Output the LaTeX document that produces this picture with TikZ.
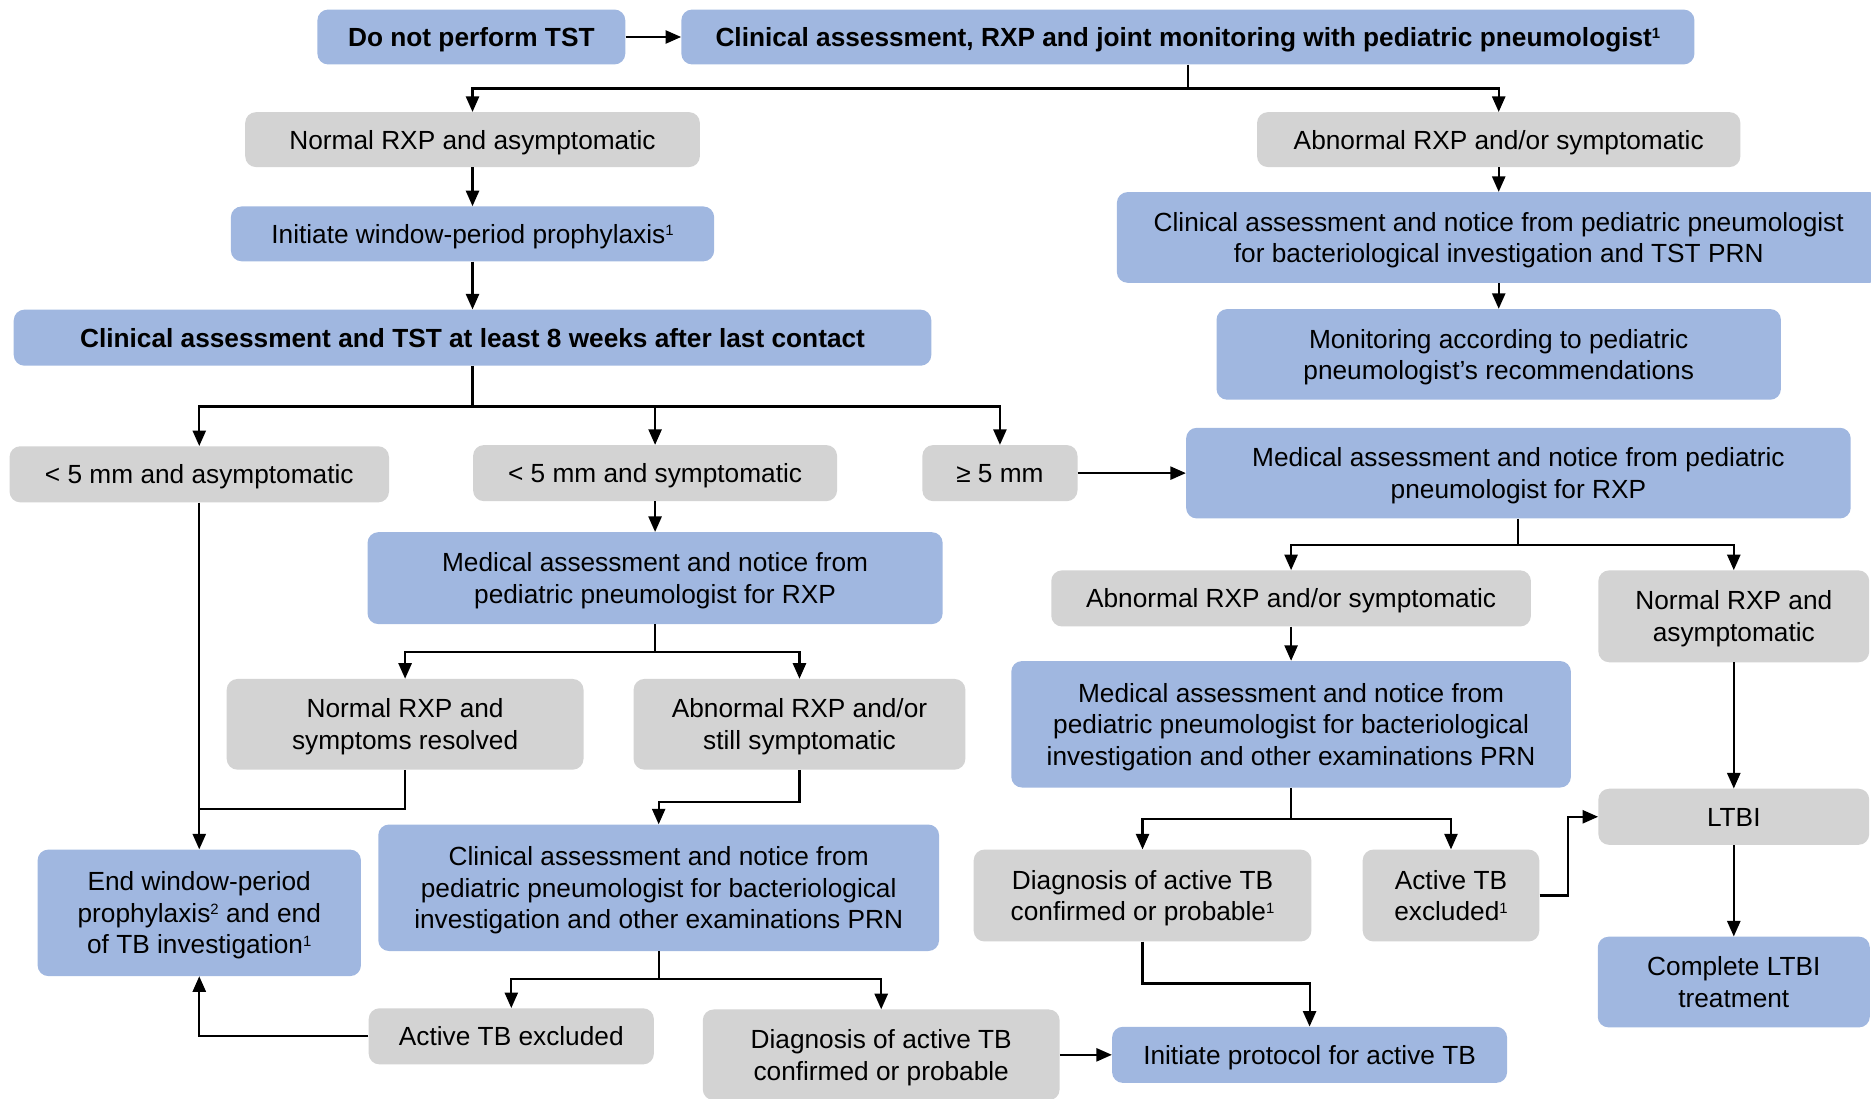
\documentclass[tikz,border=0pt]{standalone}
\usepackage{fontspec}
\setmainfont{Liberation Sans}
\usetikzlibrary{arrows.meta}
\definecolor{boxblue}{RGB}{160,183,224}
\definecolor{boxgrey}{RGB}{211,211,211}
\newcommand{\fn}[1]{\raisebox{6.5pt}{\fontsize{12.5}{12.5}\selectfont #1}}
\newcommand{\topstrut}{\rule{0pt}{20.4pt}}

\begin{document}
\begin{tikzpicture}[x=1pt,y=-1pt,
  box/.style={rounded corners=9pt,align=center,inner sep=0pt,font=\fontsize{22}{26.5}\selectfont,
    execute at begin node={\rule{0pt}{20.4pt}},execute at end node={\rule[-4.6pt]{0pt}{0pt}}},
  bluebox/.style={box,fill=boxblue},
  greybox/.style={box,fill=boxgrey},
  wh/.style 2 args={minimum width=#1pt,minimum height=#2pt},
  line/.style={line width=1.8pt},
  arr/.style={line,-{Triangle[length=13pt,width=11pt]}}]
\useasboundingbox (0,0) rectangle (1568,921);
\clip (0,0) rectangle (1568,921);

\node[bluebox,wh={258}{46}] (nott) at (395,31) {\bfseries Do not perform TST};
\node[bluebox,wh={849}{46}] (joint) at (995.5,31) {\bfseries Clinical assessment, RXP and joint monitoring with pediatric pneumologist\fn{1}};

\node[greybox,wh={381}{46}] (normA) at (396,117) {Normal RXP and asymptomatic};
\node[greybox,wh={405}{46}] (abnA) at (1256,117) {Abnormal RXP and/or symptomatic};
\node[bluebox,wh={405}{46}] (initw) at (396,196) {Initiate window-period prophylaxis\fn{1}};
\node[bluebox,wh={640}{76}] (clinB) at (1256,199) {\topstrut Clinical assessment and notice from pediatric pneumologist\\for bacteriological investigation and TST PRN};
\node[bluebox,wh={473}{76}] (monit) at (1256,297) {\topstrut Monitoring according to pediatric\\pneumologist’s recommendations};
\node[bluebox,wh={769}{47}] (tst) at (396,283) {\bfseries Clinical assessment and TST at least 8 weeks after last contact};

\node[greybox,wh={318}{47}] (lowasym) at (167,397.5) {< 5 mm and asymptomatic};
\node[greybox,wh={305}{47}] (lowsym) at (549,396.5) {< 5 mm and symptomatic};
\node[greybox,wh={130}{47}] (geq) at (838,396.5) {≥ 5 mm};
\node[bluebox,wh={557}{76}] (medR) at (1272.5,396.5) {\topstrut Medical assessment and notice from pediatric\\pneumologist for RXP};
\node[bluebox,wh={482}{77}] (medL) at (549,484.5) {\topstrut Medical assessment and notice from\\pediatric pneumologist for RXP};

\node[greybox,wh={299}{76}] (normres) at (339.5,607) {\topstrut Normal RXP and\\symptoms resolved};
\node[greybox,wh={278}{76}] (abnstill) at (670,607) {\topstrut Abnormal RXP and/or\\still symptomatic};
\node[bluebox,wh={271}{106}] (endw) at (167,765) {\topstrut End window-period\\prophylaxis\fn{2} and end\\of TB investigation\fn{1}};
\node[bluebox,wh={470}{106}] (clinC) at (552,744) {\topstrut Clinical assessment and notice from\\pediatric pneumologist for bacteriological\\investigation and other examinations PRN};
\node[greybox,wh={239}{47}] (tbexcl) at (428.5,868.5) {Active TB excluded};
\node[greybox,wh={299}{76}] (tbdiag) at (738.5,884) {\topstrut Diagnosis of active TB\\confirmed or probable};
\node[bluebox,wh={331}{47}] (proto) at (1097.5,884) {Initiate protocol for active TB};

\node[greybox,wh={402}{47}] (abnR) at (1082,501.5) {Abnormal RXP and/or symptomatic};
\node[greybox,wh={227}{77}] (normR) at (1453,516.5) {\topstrut Normal RXP and\\asymptomatic};
\node[bluebox,wh={469}{106}] (medC) at (1082,607) {\topstrut Medical assessment and notice from\\pediatric pneumologist for bacteriological\\investigation and other examinations PRN};
\node[greybox,wh={283}{77}] (diagR) at (957.5,750.5) {\topstrut Diagnosis of active TB\\confirmed or probable\fn{1}};
\node[greybox,wh={148}{77}] (exclR) at (1216,750.5) {\topstrut Active TB\\excluded\fn{1}};
\node[greybox,wh={227}{47}] (ltbi) at (1453,684.5) {LTBI};
\node[bluebox,wh={228}{76}] (compl) at (1453,823) {\topstrut Complete LTBI\\treatment};

\draw[arr] (nott) -- (joint);
\draw[line] (joint.south) -- ++(0,20) coordinate (jsplit);
\draw[arr] (jsplit) -| (normA);
\draw[arr] (jsplit) -| (abnA);
\draw[arr] (normA) -- (initw);
\draw[arr] (initw) -- (tst);
\draw[arr] (abnA) -- (clinB);
\draw[arr] (clinB) -- (monit);

\draw[line] (tst.south) -- ++(0,34) coordinate (tsplit);
\draw[arr] (tsplit) -| (lowasym);
\draw[arr] (tsplit) -| (lowsym);
\draw[arr] (tsplit) -| (geq);
\draw[arr] (geq) -- (medR);
\draw[arr] (lowsym) -- (medL);

\draw[line] (medL.south) -- ++(0,23) coordinate (msplit);
\draw[arr] (msplit) -| (normres);
\draw[arr] (msplit) -| (abnstill);
\draw[arr] (lowasym) -- (endw);
\coordinate (njoin) at (167,678);
\draw[line] (normres.south) |- (njoin);
\draw[arr] (abnstill.south) -- ++(0,27) -| (clinC);

\draw[line] (clinC.south) -- ++(0,23) coordinate (csplit);
\draw[arr] (csplit) -| (tbexcl);
\draw[arr] (csplit) -| (tbdiag);
\draw[arr] (tbexcl.west) -| (endw.south);
\draw[arr] (tbdiag) -- (proto);

\draw[line] (medR.south) -- ++(0,22) coordinate (rsplit);
\draw[arr] (rsplit) -| (abnR);
\draw[arr] (rsplit) -| (normR);
\draw[arr] (abnR) -- (medC);
\draw[line] (medC.south) -- ++(0,26) coordinate (dsplit);
\draw[arr] (dsplit) -| (diagR);
\draw[arr] (dsplit) -| (exclR);
\draw[arr] (normR) -- (ltbi);
\draw[arr] (ltbi) -- (compl);
\draw[arr] (exclR.east) -- ++(24,0) |- (ltbi.west);
\draw[arr] (diagR.south) -- ++(0,35) -| (proto.north);
\end{tikzpicture}
\end{document}
